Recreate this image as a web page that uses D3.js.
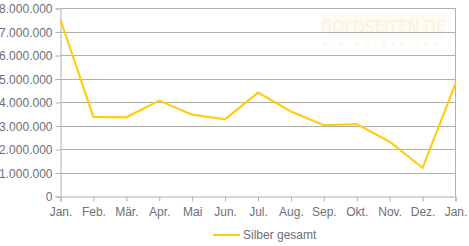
<!DOCTYPE html>
<html>
<head>
<meta charset="utf-8">
<script src="https://cdn.jsdelivr.net/npm/d3@7"></script>
<style>
    body { margin: 0; background: #fff; }
    svg { display: block; font-family: 'Liberation Sans', Arial, sans-serif; }
</style>
</head>
<body>
<div id="chart"></div>
<script>
// === DATA ===
const months = ['Jan.', 'Feb.', 'Mär.', 'Apr.', 'Mai', 'Jun.', 'Jul.', 'Aug.', 'Sep.', 'Okt.', 'Nov.', 'Dez.', 'Jan.']
const silber = [7500000, 3370000, 3350000, 4060000, 3460000, 3260000, 4400000, 3600000, 3010000, 3060000, 2310000, 1200000, 4770000]
const yTicks = [0, 1000000, 2000000, 3000000, 4000000, 5000000, 6000000, 7000000, 8000000]
const seriesName = 'Silber gesamt'

// === LAYOUT ===
const W = 469, H = 246
const m = { top: 8, right: 13.5, bottom: 50, left: 60.5 }
const grid = '#b0b0b0', txt = '#6e6e78', gold = '#ffcc11'

const svg = d3.select('#chart').append('svg').attr('width', W).attr('height', H)

const x = d3.scalePoint().domain(d3.range(months.length)).range([m.left, W - m.right])
const y = d3.scaleLinear().domain([0, 8000000]).range([H - m.bottom, m.top])

const fmt = d => d3.format(',')(d).replace(/,/g, '.')

// watermark
const wm = svg.append('g').attr('opacity', 0.6)
wm.append('rect').attr('x', 321).attr('y', 14).attr('width', 125).attr('height', 24).attr('rx', 5)
    .attr('fill', '#fdf9ea')
wm.append('text').attr('x', 383).attr('y', 33).attr('text-anchor', 'middle')
    .attr('font-family', "'DejaVu Sans Condensed', 'DejaVu Sans', sans-serif")
    .attr('font-size', 17).attr('fill', '#f5ecc8')
    .text('GOLDSEITEN.DE')
wm.append('text').attr('x', 383).attr('y', 45).attr('text-anchor', 'middle')
    .attr('font-size', 5).attr('fill', '#e6e6e6').attr('letter-spacing', 5.5)
    .text('DIE GOLDSEITEN')

// gridlines
svg.append('g').selectAll('line').data(yTicks.filter(d => d > 0)).join('line')
    .attr('x1', m.left).attr('x2', W - m.right)
    .attr('y1', d => Math.round(y(d)) + 0.5).attr('y2', d => Math.round(y(d)) + 0.5)
    .attr('stroke', grid)

// right border
svg.append('line')
    .attr('x1', W - m.right).attr('x2', W - m.right)
    .attr('y1', m.top).attr('y2', H - m.bottom)
    .attr('stroke', grid)

// y axis
const yAxis = svg.append('g').attr('transform', `translate(${m.left},0.5)`)
    .call(d3.axisLeft(y).tickValues(yTicks).tickFormat(fmt).tickSize(5).tickPadding(3))
yAxis.select('.domain').attr('stroke', grid)
yAxis.selectAll('.tick line').attr('stroke', grid)
yAxis.selectAll('text').attr('fill', txt).attr('font-size', 12).attr('dy', '0.35em')

// x axis
const xAxis = svg.append('g').attr('transform', `translate(0,${Math.round(y(0)) + 0.5})`)
    .call(d3.axisBottom(x).tickFormat(i => months[i]).tickSize(5).tickPadding(6))
xAxis.select('.domain').attr('stroke', grid)
xAxis.selectAll('.tick line').attr('stroke', grid)
xAxis.selectAll('text').attr('fill', txt).attr('font-size', 12)

// line
const line = d3.line().x((d, i) => x(i)).y(d => y(d))
svg.append('path').datum(silber)
    .attr('d', line)
    .attr('fill', 'none')
    .attr('stroke', gold)
    .attr('stroke-width', 2.2)
    .attr('stroke-linejoin', 'miter')

// legend
const lg = svg.append('g').attr('transform', 'translate(213,235)')
lg.append('line').attr('x1', 0).attr('x2', 27).attr('stroke', gold).attr('stroke-width', 2)
lg.append('text').attr('x', 30).attr('dy', '0.35em')
    .attr('fill', txt).attr('font-size', 12).text(seriesName)
</script>
</body>
</html>
